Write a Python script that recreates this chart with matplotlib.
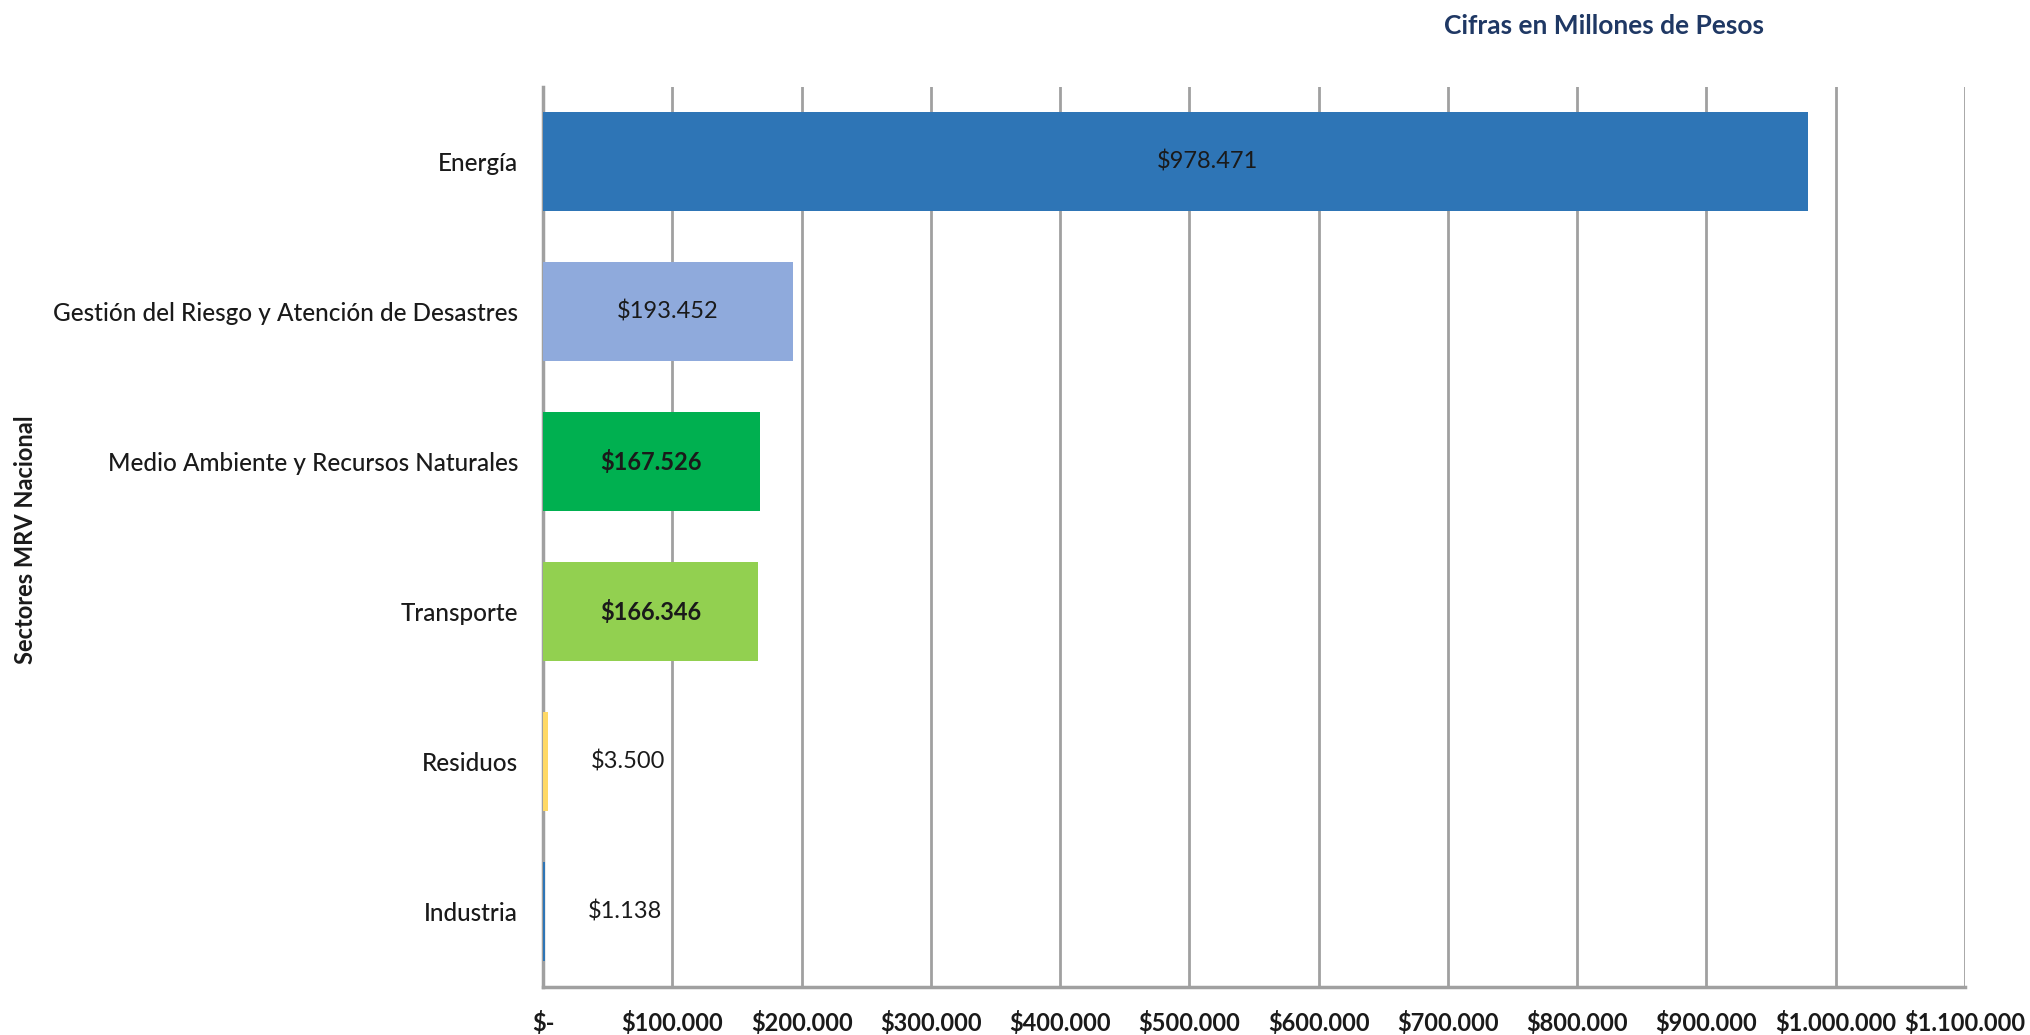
import matplotlib
matplotlib.use('Agg')
import matplotlib.pyplot as plt
from matplotlib.ticker import FixedLocator, FuncFormatter

# Datos: inversión por sector (millones de pesos)
sectores = ['Energía', 'Gestión del Riesgo y Atención de Desastres',
            'Medio Ambiente y Recursos Naturales', 'Transporte',
            'Residuos', 'Industria']
valores = [978471, 193452, 167526, 166346, 3500, 1138]
colores = ['#2E75B6', '#8FAADC', '#00B050', '#92D050', '#FFD966', '#2E75B6']
ticks = list(range(0, 1100001, 100000))

plt.rcParams['font.family'] = ['Lato', 'DejaVu Sans']


def pesos(v):
    if v == 0:
        return '$-'
    return '$' + f'{int(v):,}'.replace(',', '.')


fig = plt.figure(figsize=(20.31, 10.35), dpi=100)
ax = fig.add_axes([0.2674, 0.0464, 0.7001, 0.8696])

y = list(range(len(sectores)))
ax.barh(y, valores, height=0.66, color=colores, zorder=3)
ax.set_ylim(len(sectores) - 0.5, -0.5)
ax.set_xlim(0, 1100000)

# etiquetas de datos
for i, v in enumerate(valores):
    if v > 500000:
        xt = v / 2 + 25000
        w = 'normal'
    elif v > 100000:
        xt = v / 2
        w = 'bold' if colores[i] in ('#00B050', '#92D050') else 'normal'
    else:
        xt = v + 62000
        w = 'normal'
    ax.text(xt, i, pesos(v), ha='center', va='center', fontsize=17,
            color='#1a1a1a', fontweight=w, zorder=4)

ax.xaxis.set_major_locator(FixedLocator(ticks))
ax.xaxis.set_major_formatter(FuncFormatter(lambda v, p: pesos(v)))
ax.set_yticks(y)
ax.set_yticklabels(sectores)
ax.tick_params(axis='y', length=0, pad=18, labelsize=17.5, labelcolor='#1a1a1a')
ax.tick_params(axis='x', length=0, pad=17, labelsize=17, labelcolor='#1a1a1a')
for lbl in ax.get_xticklabels():
    lbl.set_fontweight('bold')
for lbl in ax.get_yticklabels():
    lbl.set_fontweight('medium')

ax.grid(axis='x', color='#A0A0A0', linewidth=2, zorder=1)
ax.grid(axis='y', visible=False)
for s in ['top', 'right']:
    ax.spines[s].set_visible(False)
for s in ['left', 'bottom']:
    ax.spines[s].set_color('#A0A0A0')
    ax.spines[s].set_linewidth(2.5)

fig.text(0.0128, 0.479, 'Sectores MRV Nacional', rotation=90, ha='center',
         va='center', fontsize=17, fontweight='bold', color='#1a1a1a')
fig.text(0.79, 0.975, 'Cifras en Millones de Pesos', ha='center', va='center',
         fontsize=19, fontweight='bold', color='#1F3864')

plt.savefig('out.png', dpi=100)
